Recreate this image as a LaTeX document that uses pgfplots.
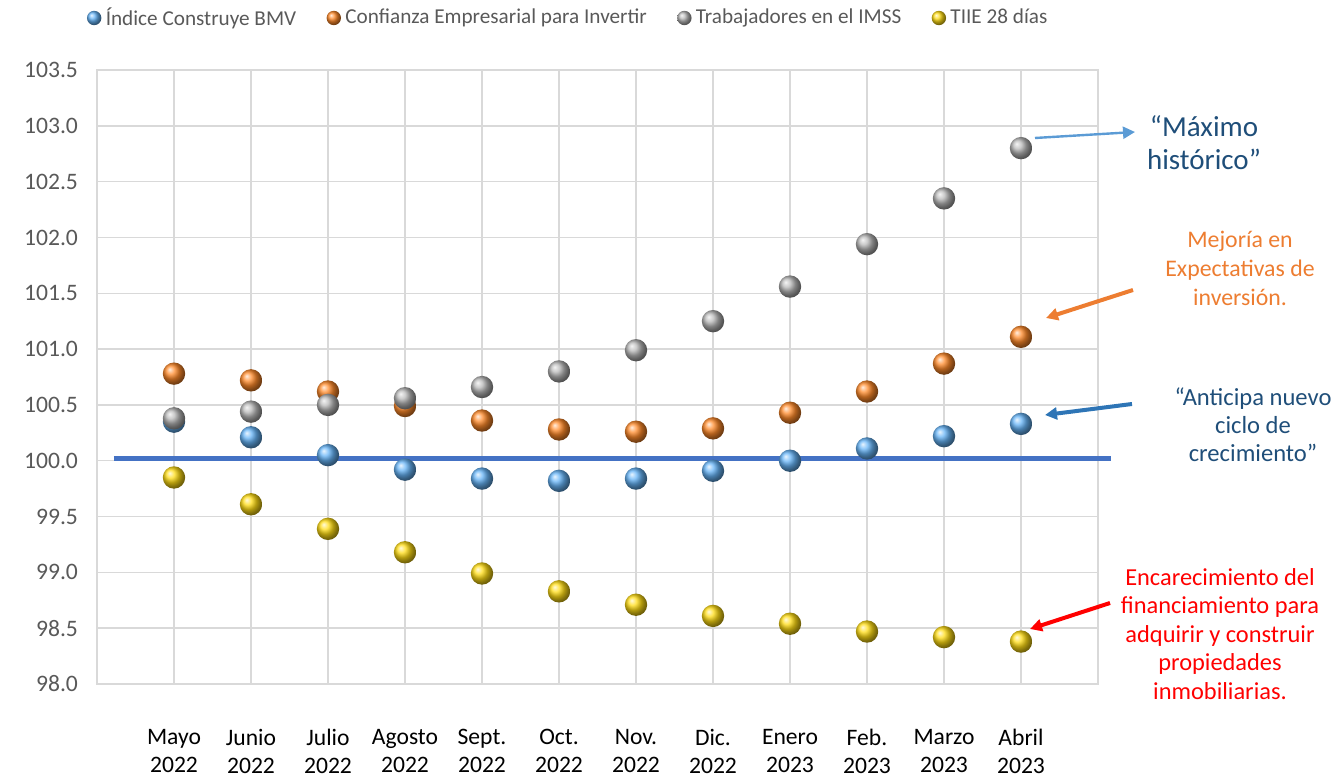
\documentclass[border=0pt]{standalone}
\usepackage{pgfplots}
\pgfplotsset{compat=1.18}
\usepackage{fontspec}
\setmainfont{Carlito}
\usetikzlibrary{arrows.meta}
\definecolor{gridc}{HTML}{D9D9D9}
\definecolor{tickc}{HTML}{595959}
\definecolor{cblue}{HTML}{66B4F7}
\definecolor{corange}{HTML}{FF8A2A}
\definecolor{cgray}{HTML}{B8B8B8}
\definecolor{cyellow}{HTML}{FFDC14}
\definecolor{dkblue}{HTML}{1F4E79}
\definecolor{annor}{HTML}{ED7D31}
\definecolor{ltblue}{HTML}{5B9BD5}
\definecolor{mdblue}{HTML}{2E75B6}
\definecolor{hline}{HTML}{4472C4}
\begin{document}
\begin{tikzpicture}
\path[use as bounding box] (-48.5bp,-47bp) rectangle (623.5bp,342bp);
\begin{axis}[
  scale only axis,
  width=500.5bp, height=307bp,
  xmin=-1, xmax=12, ymin=98, ymax=103.5,
  clip=false,
  axis line style={gridc, line width=0.75bp},
  grid=major,
  major grid style={gridc, line width=0.75bp},
  major tick length=0pt,
  xtick={0,...,11},
  xticklabels={{Mayo\\2022},{Junio\\2022},{Julio\\2022},{Agosto\\2022},{Sept.\\2022},{Oct.\\2022},{Nov.\\2022},{Dic.\\2022},{Enero\\2023},{Feb.\\2023},{Marzo\\2023},{Abril\\2023}},
  xticklabel style={align=center, font=\fontsize{11.8bp}{14bp}\selectfont, text=black, yshift=-19bp},
  ytick={98,98.5,...,103.5},
  yticklabel style={font=\fontsize{11.8bp}{13bp}\selectfont, text=tickc, /pgf/number format/.cd, fixed, fixed zerofill, precision=1, assume math mode=true},
  yticklabel shift=6bp,
  legend columns=4,
  legend style={at={(0.4715,1.0847)}, anchor=center, draw=none, fill=none,
    font=\fontsize{10.6bp}{12bp}\selectfont, text=tickc,
    /tikz/every even column/.append style={column sep=13bp},
    inner sep=0pt},
  legend image code/.code={\draw[#1] plot coordinates {(0.15cm,0cm)};},
  legend image post style={mark size=3.6bp},
  legend cell align=left,
]
\addplot[only marks, mark=ball, mark size=5.6bp, mark options={ball color=cblue, draw opacity=0}] coordinates {
(0,100.35) (1,100.21) (2,100.05) (3,99.92) (4,99.84) (5,99.82) (6,99.84) (7,99.91) (8,100.00) (9,100.11) (10,100.22) (11,100.33)};
\addlegendentry{Índice Construye BMV}
\addplot[only marks, mark=ball, mark size=5.6bp, mark options={ball color=corange, draw opacity=0}] coordinates {
(0,100.78) (1,100.72) (2,100.62) (3,100.49) (4,100.36) (5,100.28) (6,100.26) (7,100.29) (8,100.43) (9,100.62) (10,100.87) (11,101.11)};
\addlegendentry{Confianza Empresarial para Invertir}
\addplot[only marks, mark=ball, mark size=5.6bp, mark options={ball color=cgray, draw opacity=0}] coordinates {
(0,100.38) (1,100.44) (2,100.50) (3,100.56) (4,100.66) (5,100.80) (6,100.99) (7,101.25) (8,101.56) (9,101.94) (10,102.35) (11,102.80)};
\addlegendentry{Trabajadores en el IMSS}
\addplot[only marks, mark=ball, mark size=5.6bp, mark options={ball color=cyellow, draw opacity=0}] coordinates {
(0,99.85) (1,99.61) (2,99.39) (3,99.18) (4,98.99) (5,98.83) (6,98.71) (7,98.61) (8,98.54) (9,98.47) (10,98.42) (11,98.38)};
\addlegendentry{TIIE 28 días}
\addplot[hline, line width=2.5bp, no marks, forget plot] coordinates {(-0.78,100.02) (12.17,100.02)};
\end{axis}
% annotations (absolute, 1px = 0.5bp, origin at axis SW corner)
\node[align=center, text=dkblue, font=\fontsize{14.5bp}{16.5bp}\selectfont] at (553.5bp,270.5bp) {“Máximo\\histórico”};
\draw[ltblue, line width=1.2bp, -{Triangle[length=6bp,width=6bp]}] (469bp,273bp) -- (519bp,276bp);
\node[align=center, text=annor, font=\fontsize{11.9bp}{14.5bp}\selectfont] at (571.5bp,208bp) {Mejoría en\\Expectativas de\\inversión.};
\draw[annor, line width=2bp, -{Triangle[length=6bp,width=6bp]}] (518bp,197bp) -- (474.5bp,183bp);
\node[align=center, text=dkblue, font=\fontsize{12.3bp}{14bp}\selectfont] at (578bp,129.5bp) {“Anticipa nuevo\\ciclo de\\crecimiento”};
\draw[mdblue, line width=2bp, -{Triangle[length=6bp,width=6bp]}] (517.5bp,140bp) -- (474bp,134.5bp);
\node[align=center, text=red, font=\fontsize{12.2bp}{14.3bp}\selectfont] at (561.5bp,25bp) {Encarecimiento del\\financiamiento para\\adquirir y construir\\propiedades\\inmobiliarias.};
\draw[red, line width=2bp, -{Triangle[length=6bp,width=6bp]}] (506.5bp,40.5bp) -- (466.5bp,27.5bp);
\end{tikzpicture}
\end{document}
